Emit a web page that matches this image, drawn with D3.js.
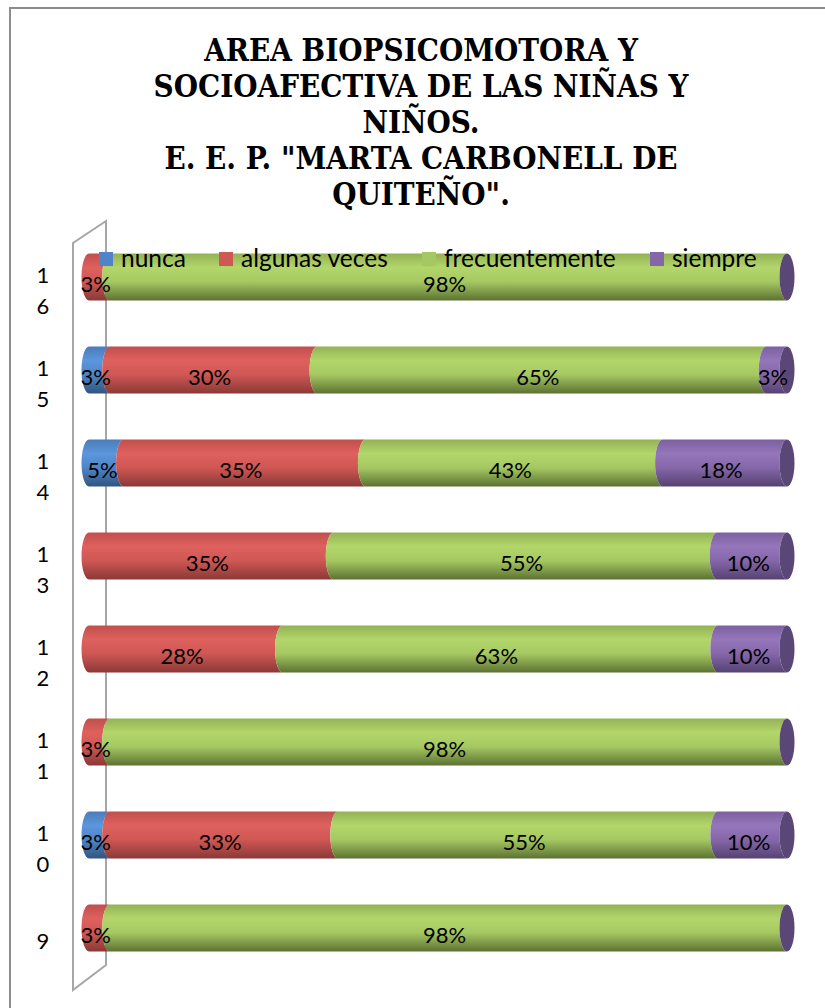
<!DOCTYPE html>
<html>
<head>
<meta charset="utf-8">
<script src="https://cdn.jsdelivr.net/npm/d3@7"></script>
<style>
    body { margin: 0; background: #fff; }
    svg { display: block; }
    .title { font-family: "DejaVu Serif Condensed", "DejaVu Serif", serif; font-weight: bold; font-stretch: condensed; }
    .lbl, .legend text, .cat { font-family: Lato, "Open Sans", sans-serif; fill: #000; }
</style>
</head>
<body>
<svg id="svg"></svg>
<script>
// Chart data (top to bottom, as drawn)
const categories = ["16", "15", "14", "13", "12", "11", "10", "9"];
const seriesNames = ["nunca", "algunas veces", "frecuentemente", "siempre"];
const nunca        = [0, 3, 5, 0, 0, 0, 3, 0];
const algunasVeces = [3, 30, 35, 35, 28, 3, 33, 3];
const frecuente    = [98, 65, 43, 55, 63, 98, 55, 98];
const siempre      = [0, 3, 18, 10, 10, 0, 10, 0];
const titleLines = [
    "AREA BIOPSICOMOTORA Y",
    "SOCIOAFECTIVA DE LAS NIÑAS Y",
    "NIÑOS.",
    "E. E. P. \"MARTA CARBONELL DE",
    "QUITEÑO\"."
];

const width = 825, height = 1008;
const svg = d3.select("#svg").attr("width", width).attr("height", height);
const defs = svg.append("defs");

// Colours: [top, highlight, mid, bottom]
const palette = [
    ["#4a7cbb", "#5c96dc", "#4f85c8", "#30557f"],
    ["#c04f4c", "#df615e", "#cf5754", "#8a3937"],
    ["#93b255", "#b3d66b", "#a6c862", "#5c7232"],
    ["#7c609f", "#9576bb", "#8567a9", "#554271"]
];
palette.forEach((c, i) => {
    const gr = defs.append("linearGradient")
        .attr("id", "grad" + i)
        .attr("x1", 0).attr("y1", 0).attr("x2", 0).attr("y2", 1);
    [[0, c[0]], [0.3, c[1]], [0.6, c[2]], [1, c[3]]].forEach(s => {
        gr.append("stop").attr("offset", s[0]).attr("stop-color", s[1]);
    });
});

// Outer frame
svg.append("rect")
    .attr("x", 10).attr("y", 8)
    .attr("width", 830).attr("height", 1010)
    .attr("fill", "none").attr("stroke", "#8c8c8c").attr("stroke-width", 2);

// Title
const title = svg.append("text").attr("class", "title")
    .attr("text-anchor", "middle")
    .style("font-size", "31px");
titleLines.forEach((t, i) => {
    title.append("tspan").attr("x", 421).attr("y", 61 + i * 36).text(t);
});

// Scales
const y = d3.scalePoint().domain(categories).range([230.5, 974.5]).padding(0.5);
const x = d3.scaleLinear().domain([0, 1]).range([89, 787]);
const ry = 23.5, rx = 7.5;

// Back wall (3D plane on the left)
svg.append("path")
    .attr("d", "M73,990 L73,243 L106,221 L106,965 Z")
    .attr("fill", "none").attr("stroke", "#a6a6a6").attr("stroke-width", 2);

// Stack rows
const rows = categories.map((c, i) => {
    const vals = [nunca[i], algunasVeces[i], frecuente[i], siempre[i]];
    const total = d3.sum(vals);
    let acc = 0;
    return {
        cat: c,
        segs: vals.map((v, k) => {
            const s = { k, v, a: acc / total, b: (acc + v) / total };
            acc += v;
            return s;
        })
    };
});

function segPath(xa, xb, cy) {
    return `M${xa},${cy - ry} A${rx},${ry} 0 0 0 ${xa},${cy + ry}` +
        ` L${xb},${cy + ry} A${rx},${ry} 0 0 1 ${xb},${cy - ry} Z`;
}

const bars = svg.append("g").selectAll("g")
    .data(rows)
    .join("g");

bars.selectAll("path.seg")
    .data(d => d.segs.filter(s => s.v > 0).map(s => ({ ...s, cy: y(d.cat) })))
    .join("path")
    .attr("class", "seg")
    .attr("d", s => segPath(x(s.a), x(s.b), s.cy))
    .attr("fill", s => `url(#grad${s.k})`);

// Right end cap
bars.append("ellipse")
    .attr("cx", x(1)).attr("cy", d => y(d.cat))
    .attr("rx", rx).attr("ry", ry)
    .attr("fill", "#5a4677");

// Data labels
bars.selectAll("text.lbl")
    .data(d => d.segs.filter(s => s.v > 0).map(s => ({ ...s, cy: y(d.cat) })))
    .join("text")
    .attr("class", "lbl")
    .attr("x", s => (x(s.a) + x(s.b)) / 2 - rx / 2)
    .attr("y", s => s.cy + 9)
    .attr("text-anchor", "middle")
    .attr("dominant-baseline", "middle")
    .style("font-size", "22px")
    .text(s => s.v + "%");

// Category labels (wrapped one character per line)
svg.append("g").selectAll("text")
    .data(categories)
    .join("text")
    .attr("class", "cat")
    .attr("text-anchor", "middle")
    .style("font-size", "22px")
    .each(function (c) {
        const chars = c.split("");
        const lh = 31;
        const top = y(c) + 15.5 - (chars.length - 1) * lh / 2;
        chars.forEach((ch, j) => {
            d3.select(this).append("tspan")
                .attr("x", 43)
                .attr("y", top + j * lh)
                .attr("dominant-baseline", "middle")
                .text(ch);
        });
    });

// Legend
const legendX = [99, 219, 422, 650];
const legend = svg.append("g").attr("class", "legend")
    .selectAll("g")
    .data(seriesNames)
    .join("g")
    .attr("transform", (d, i) => `translate(${legendX[i]},252)`);
legend.append("rect")
    .attr("width", 14).attr("height", 14)
    .attr("fill", (d, i) => palette[i][2]);
legend.append("text")
    .attr("x", 22).attr("y", 15)
    .style("font-size", "24.5px")
    .text(d => d);
</script>
</body>
</html>
